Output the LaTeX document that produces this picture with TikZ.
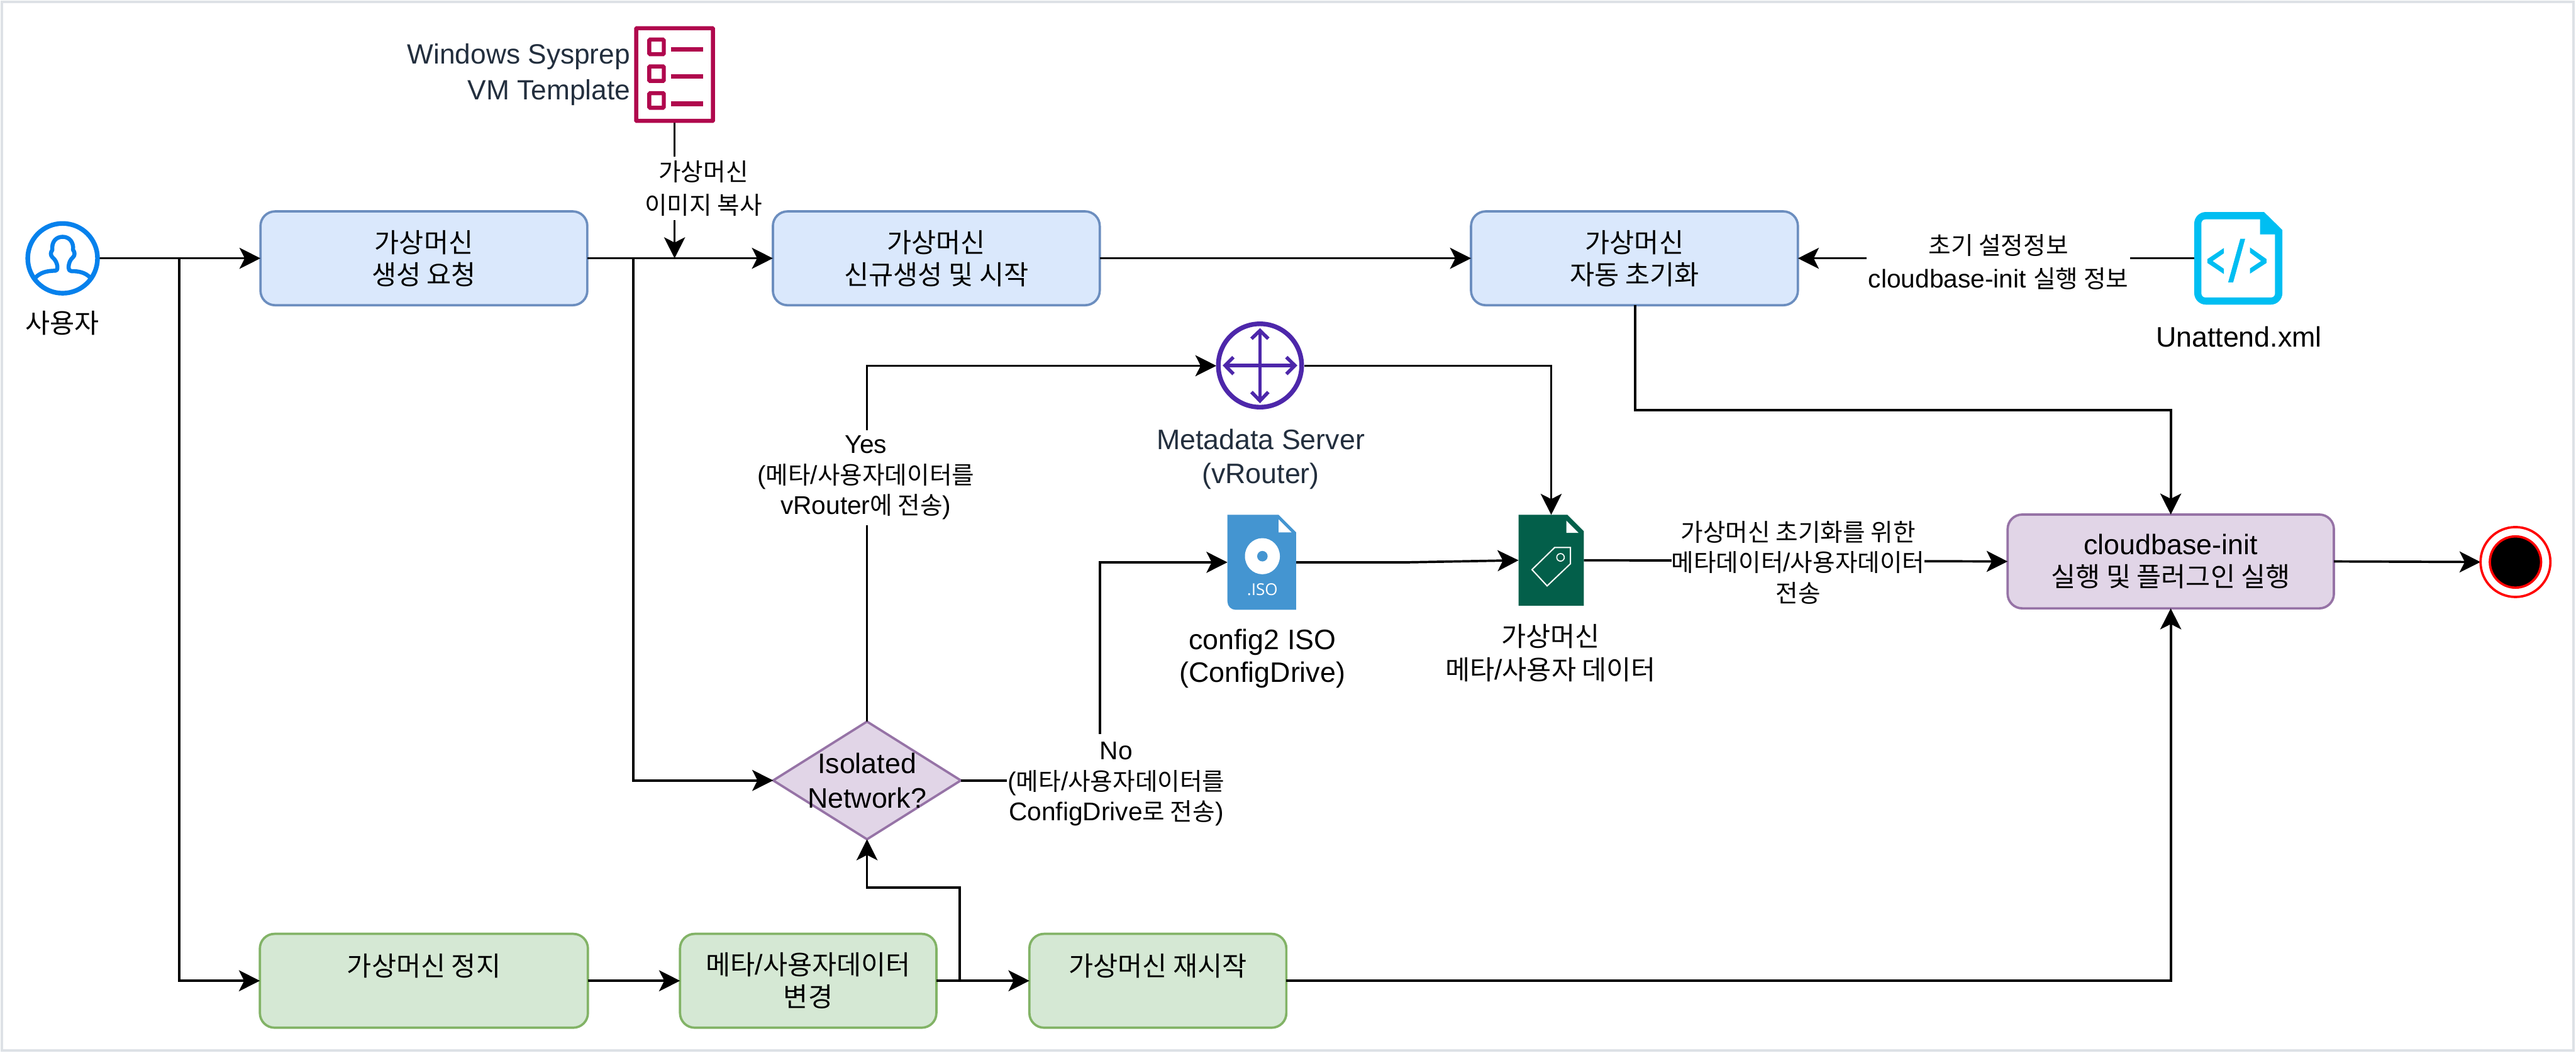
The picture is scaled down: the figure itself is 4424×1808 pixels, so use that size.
\documentclass[tikz,border=0pt]{standalone}
\usepackage{fontspec}
\setmainfont{Liberation Sans}
\newfontfamily\cjkf[Scale=0.95]{Noto Sans CJK KR}
\newfontfamily\isof{Open Sans}
\newcommand{\kr}[1]{{\cjkf #1}}
\usetikzlibrary{arrows.meta,shapes.geometric}
\definecolor{bfill}{HTML}{DAE8FC}\definecolor{bline}{HTML}{6C8EBF}
\definecolor{gfill}{HTML}{D5E8D4}\definecolor{gline}{HTML}{82B366}
\definecolor{pfill}{HTML}{E1D5E7}\definecolor{pline}{HTML}{9673A6}
\definecolor{awsdark}{HTML}{232F3E}
\definecolor{usercol}{HTML}{0681EC}
\definecolor{tmplcol}{HTML}{B0084D}
\definecolor{xmlcol}{HTML}{00BEF2}
\definecolor{routercol}{HTML}{4D27AA}
\definecolor{isocol}{HTML}{4495D1}
\definecolor{doccol}{HTML}{035F4A}
\definecolor{framecol}{HTML}{DDE1E6}
\tikzset{
  procbox/.style={rectangle,rounded corners=0.25cm,line width=0.04cm,inner sep=0pt,outer sep=0pt,
    minimum height=1.61cm,align=center,font={\fontsize{13.75pt}{15.65pt}\selectfont}},
  boxb/.style={procbox,draw=bline,fill=bfill,minimum width=5.61cm},
  boxg/.style={procbox,draw=gline,fill=gfill},
  boxp/.style={procbox,draw=pline,fill=pfill,minimum width=5.6cm},
  hold/.style={rectangle,inner sep=0pt,outer sep=0pt},
  txt/.style={inner sep=0pt,align=center,font={\fontsize{13.75pt}{16.1pt}\selectfont}},
  lbl/.style={fill=white,inner sep=0pt,align=center,font={\fontsize{12.5pt}{14.8pt}\selectfont}},
  lblw/.style={lbl,font={\fontsize{12.5pt}{16.2pt}\selectfont}},
  flow/.style={line width=0.04cm,draw=black,-{Stealth[length=0.36cm,width=0.36cm,inset=0.09cm]}},
  icon/.style={x=0.003333cm,y=-0.003333cm},
}
\begin{document}
\begin{tikzpicture}[x=0.01cm,y=-0.01cm]
\useasboundingbox (0,0) rectangle (4424,1808);
\fill[white] (0,0) rectangle (4424,1808);
\draw[framecol,line width=0.045cm] (3,3) rectangle (4420,1804);

% process nodes
\node[boxb] (req) at (728,443.5) {\kr{가상머신}\\\kr{생성 요청}};
\node[boxb] (new) at (1608,443.5) {\kr{가상머신}\\\kr{신규생성 및 시작}};
\node[boxb] (auto) at (2807,443.5) {\kr{가상머신}\\\kr{자동 초기화}};
\node[boxp] (cbi) at (3728,964) {cloudbase-init\\\kr{실행 및 플러그인 실행}};
\node[boxg,minimum width=5.63cm] (stop) at (728,1684) {\kr{가상머신 정지}\\~};
\node[boxg,minimum width=4.4cm] (chg) at (1388,1684) {\kr{메타}/\kr{사용자데이터}\\\kr{변경}};
\node[boxg,minimum width=4.41cm] (rst) at (1988.5,1684) {\kr{가상머신 재시작}\\~};
\node[diamond,draw=pline,fill=pfill,line width=0.04cm,inner sep=0pt,outer sep=0pt,
  minimum width=3.22cm,minimum height=2.02cm,
  label={[txt,font={\fontsize{13.75pt}{17pt}\selectfont}]center:Isolated\\Network?}] (iso) at (1489,1340) {};

% icon holders
\node[hold,minimum width=1.26cm,minimum height=1.26cm] (user) at (108,443.5) {};
\node[hold,minimum width=1.39cm,minimum height=1.66cm] (tmpl) at (1158.5,128) {};
\node[hold,minimum width=1.51cm,minimum height=1.59cm] (xml) at (3844.5,443.5) {};
\node[hold,minimum width=1.51cm,minimum height=1.51cm] (router) at (2164.5,628) {};
\node[hold,minimum width=1.18cm,minimum height=1.63cm] (isofile) at (2167,965.5) {};
\node[hold,minimum width=1.12cm,minimum height=1.56cm] (doc) at (2664,962) {};
\node[hold,minimum width=1.2cm,minimum height=1.2cm] (end) at (4320,965) {};

% junctions
\coordinate (j1) at (308,443.5);
\coordinate (j2) at (1088,443.5);
\coordinate (j3) at (1158.5,443.5);
\coordinate (j4) at (1648,1684);
\coordinate (j5) at (1648,1524);
\coordinate (j6) at (1889,1340);
\coordinate (j7) at (2419,965.5);
\coordinate (j8) at (2808,704);

% connectors
\draw[flow] (user.east) -- (req.west);
\draw[flow] (j1) -- (j1 |- stop.west) -- (stop.west);
\draw[flow] (req.east) -- (new.west);
\draw[flow] (j2) -- (j2 |- iso.west) -- (iso.west);
\draw[flow] (tmpl.south) -- (j3);
\draw[flow] (new.east) -- (auto.west);
\draw[flow] (xml.west) -- (auto.east);
\draw[flow] (auto.south -| j8) -- (j8) -- (j8 -| cbi.north) -- (cbi.north);
\draw[flow] (stop.east) -- (chg.west);
\draw[flow] (chg.east) -- (rst.west);
\draw[flow] (j4) -- (j5) -- (j5 -| iso.south) -- (iso.south);
\draw[flow] (iso.north) -- (iso.north |- router.west) -- (router.west);
\draw[flow] (iso.east) -- (j6) -- (j6 |- isofile.west) -- (isofile.west);
\draw[flow] (router.east) -- (router.east -| doc.north) -- (doc.north);
\draw[flow] (isofile.east) -- (j7) -- (doc.west);
\draw[flow] (doc.east) -- (cbi.west);
\draw[flow] (rst.east) -- (rst.east -| cbi.south) -- (cbi.south);
\draw[flow] (cbi.east) -- (end.west);

% connector labels
\node[lblw,minimum height=1.09cm,minimum width=2.01cm] (lcopy) at (1208,323.5) {\kr{가상머신}\\\kr{이미지 복사}};
\node[lblw,minimum width=4.52cm,minimum height=1.1cm] (linit) at (3432,450) {\kr{초기 설정정보}\\cloudbase-init \kr{실행 정보}};
\node[lbl,minimum width=3.7cm,minimum height=1.63cm] (lyes) at (1487,820) {Yes\\(\kr{메타}/\kr{사용자데이터를}\\vRouter\kr{에 전송})};
\node[lbl,minimum width=3.76cm,minimum height=1.7cm] (lno) at (1917,1346) {No\\(\kr{메타}/\kr{사용자데이터를}\\ConfigDrive\kr{로 전송})};
\node[lbl,minimum width=4.3cm,minimum height=1.6cm] (ldata) at (3088,966) {\kr{가상머신 초기화를 위한}\\\kr{메타데이터}/\kr{사용자데이터}\\\kr{전송}};

% icon and node captions
\node[txt] (tuser) at (107,555) {\kr{사용자}};
\node[txt,anchor=east,align=right,text=awsdark,font={\fontsize{13.6pt}{17.4pt}\selectfont}] (ttmpl) at (1083,128) {Windows Sysprep\\VM Template};
\node[txt] (txml) at (3845,578) {Unattend.xml};
\node[txt,text=awsdark,font={\fontsize{13.75pt}{16.5pt}\selectfont}] (trouter) at (2165,788) {Metadata Server\\(vRouter)};
\node[txt] (tiso) at (2168,1131) {config2 ISO\\(ConfigDrive)};
\node[txt] (tdoc) at (2663,1121) {\kr{가상머신}\\\kr{메타}/\kr{사용자 데이터}};

% user icon
\begin{scope}[shift={(30,370)},icon]
  \draw[usercol,line width=0.08cm] (233,221) circle [radius=180];
  \draw[usercol,line width=0.07cm,line join=round,line cap=round]
    (93,320) .. controls (118,295) and (150,285) .. (195,285)
    .. controls (204,285) and (206,278) .. (206,270)
    .. controls (206,245) and (195,228) .. (180,215)
    .. controls (170,205) and (170,190) .. (180,178)
    .. controls (175,135) and (200,110) .. (233,110)
    .. controls (266,110) and (291,135) .. (287,178)
    .. controls (297,190) and (297,205) .. (287,215)
    .. controls (272,228) and (264,245) .. (264,270)
    .. controls (264,280) and (268,287) .. (278,287)
    .. controls (320,287) and (350,295) .. (375,320);
\end{scope}

% template icon
\begin{scope}[tmplcol]
  \draw[line width=0.07cm,rounded corners=0.01cm] (1092.5,48.5) rectangle (1224.5,207.5);
  \foreach \yy in {68,114,160}{
    \draw[line width=0.07cm,rounded corners=0.015cm] (1115,\yy) rectangle (1140,\yy+25);
  }
  \foreach \yy in {85,131,178}{
    \draw[line width=0.08cm] (1152,\yy) -- (1208,\yy);
  }
\end{scope}

% xml icon
\begin{scope}[shift={(3750,350)},icon]
  \fill[xmlcol,even odd rule]
    (415,42) -- (510,135) -- (510,460) arc[start angle=0,end angle=90,radius=60] -- (115,520)
    arc[start angle=90,end angle=180,radius=60] -- (55,102) arc[start angle=180,end angle=270,radius=60] -- cycle
    (112,80) -- (395,80) -- (395,158) -- (472,158) -- (472,463) arc[start angle=0,end angle=90,radius=20] -- (112,483)
    arc[start angle=90,end angle=180,radius=20] -- (92,100) arc[start angle=180,end angle=270,radius=20] -- cycle;
  \fill[xmlcol] (208,228) -- (123,285) -- (123,305) -- (208,362) -- (208,335) -- (150,295) -- (208,255) -- cycle;
  \fill[xmlcol] (343,225) -- (428,285) -- (428,305) -- (343,360) -- (343,333) -- (400,295) -- (343,252) -- cycle;
  \fill[xmlcol] (293,180) -- (318,180) -- (256,405) -- (230,405) -- cycle;
\end{scope}

% router icon
\begin{scope}[shift={(2080,545)},icon]
  \draw[routercol,line width=0.08cm] (252,248) circle [radius=215];
  \draw[routercol,line width=0.06cm] (252,70) -- (252,425) (72,248) -- (432,248);
  \draw[routercol,line width=0.06cm,line join=miter]
    (208,110) -- (252,68) -- (295,110)
    (208,385) -- (252,430) -- (295,385)
    (115,205) -- (72,248) -- (115,292)
    (388,205) -- (432,248) -- (388,292);
\end{scope}

% ISO file icon
\fill[isocol] (2108,884) -- (2196,884) -- (2226,914) -- (2226,1047) -- (2122,1047)
  arc[start angle=90,end angle=180,radius=14] -- cycle;
\fill[white] (2196,892) -- (2196,914) -- (2218,914) -- cycle;
\fill[white] (2168,955) ellipse [x radius=30,y radius=31];
\fill[isocol] (2168,955) circle [radius=9];
\node[inner sep=0pt,text=white,font={\isof\fontsize{8pt}{9pt}\selectfont}] (tisoname) at (2168,1012) {.ISO};

% metadata document icon
\fill[doccol] (2608,884) -- (2692,884) -- (2720,912) -- (2720,1040) -- (2608,1040) -- cycle;
\fill[white] (2690,894) -- (2690,915) -- (2711,915) -- cycle;
\draw[white,line width=0.022cm] (2670,940) -- (2697,940) -- (2697,968) -- (2657,1006) -- (2631,978) -- cycle;
\draw[white,line width=0.018cm] (2680,957) circle [radius=6.5];

% end state
\draw[red,line width=0.04cm] (end.center) circle [radius=60];
\draw[red,line width=0.04cm,fill=black] (end.center) circle [radius=44];
\end{tikzpicture}
\end{document}
